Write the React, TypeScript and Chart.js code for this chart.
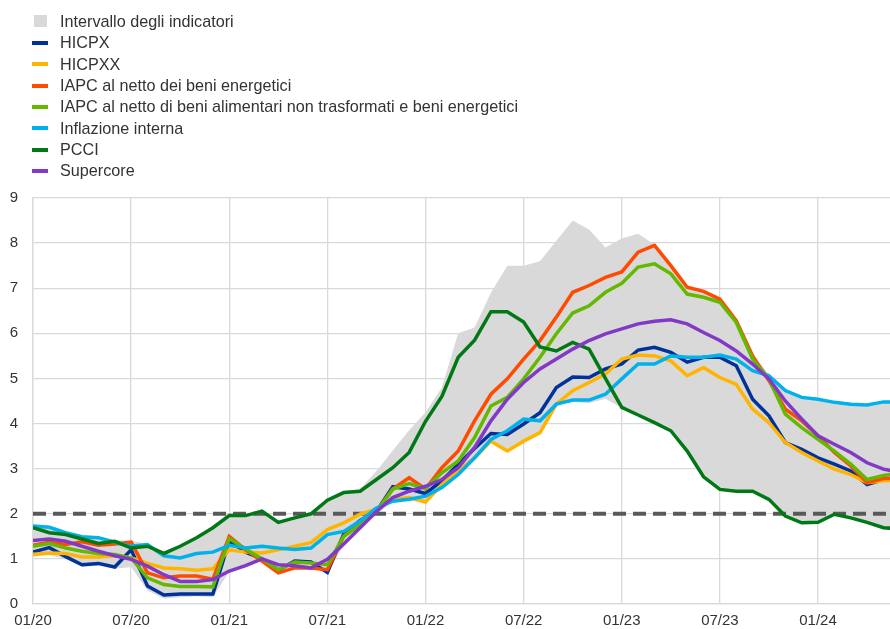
import React, { useEffect, useRef } from 'react';
import { Chart, registerables } from 'chart.js';

Chart.register(...registerables);

// Monthly observations from 01/20 (index 0) to 06/24 (index 53)
const xTickLabels = ['01/20', '07/20', '01/21', '07/21', '01/22', '07/22', '01/23', '07/23', '01/24'];
const monthsPerTick = 6;
const xAxisMax = 52.4;
const yAxisMin = 0;
const yAxisMax = 9;
const targetLevel = 2;

const hicpx = [1.15, 1.25, 1.05, 0.87, 0.9, 0.82, 1.2, 0.4, 0.2, 0.22, 0.22, 0.22,
  1.4, 1.15, 1.0, 0.75, 0.95, 0.93, 0.7, 1.55, 1.85, 2.05, 2.6, 2.55,
  2.45, 2.73, 3.1, 3.45, 3.78, 3.76, 3.99, 4.24, 4.8, 5.03, 5.02, 5.21,
  5.32, 5.63, 5.69, 5.58, 5.36, 5.47, 5.47, 5.28, 4.54, 4.17, 3.58, 3.43,
  3.24, 3.1, 2.95, 2.65, 2.76, 2.8];

const hicpxx = [1.1, 1.13, 1.12, 1.04, 1.04, 1.07, 1.02, 0.9, 0.8, 0.78, 0.75, 0.78,
  1.2, 1.15, 1.13, 1.2, 1.28, 1.36, 1.65, 1.8, 1.99, 2.1, 2.32, 2.36,
  2.26, 2.65, 2.95, 3.24, 3.61, 3.39, 3.61, 3.8, 4.43, 4.73, 4.91, 5.1,
  5.43, 5.52, 5.5, 5.39, 5.06, 5.24, 5.02, 4.87, 4.32, 4.02, 3.58, 3.36,
  3.17, 2.99, 2.87, 2.69, 2.73, 2.75];

const exEnergy = [1.3, 1.37, 1.32, 1.38, 1.3, 1.33, 1.37, 0.69, 0.58, 0.62, 0.62, 0.55,
  1.5, 1.2, 0.95, 0.69, 0.8, 0.8, 0.76, 1.5, 1.8, 2.05, 2.55, 2.8,
  2.55, 3.02, 3.39, 4.06, 4.65, 4.99, 5.43, 5.84, 6.36, 6.91, 7.06, 7.24,
  7.36, 7.8, 7.95, 7.5, 7.02, 6.93, 6.76, 6.28, 5.5, 4.95, 4.32, 4.06,
  3.73, 3.36, 3.06, 2.69, 2.78, 2.8];

const exFoodEnergy = [1.28, 1.34, 1.24, 1.17, 1.12, 1.1, 1.02, 0.58, 0.43, 0.39, 0.39, 0.38,
  1.45, 1.22, 1.0, 0.76, 0.93, 0.91, 0.87, 1.5, 1.75, 2.05, 2.55, 2.67,
  2.56, 2.91, 3.17, 3.69, 4.39, 4.58, 4.99, 5.47, 5.99, 6.45, 6.61, 6.91,
  7.11, 7.47, 7.54, 7.32, 6.87, 6.8, 6.69, 6.24, 5.43, 4.99, 4.21, 3.91,
  3.65, 3.39, 3.1, 2.76, 2.85, 2.9];

const domestic = [1.73, 1.7, 1.58, 1.49, 1.47, 1.37, 1.28, 1.32, 1.07, 1.02, 1.12, 1.15,
  1.3, 1.24, 1.28, 1.24, 1.21, 1.24, 1.54, 1.61, 1.84, 2.13, 2.28, 2.32,
  2.39, 2.58, 2.87, 3.24, 3.65, 3.84, 4.1, 4.06, 4.43, 4.52, 4.52, 4.65,
  4.99, 5.32, 5.32, 5.5, 5.47, 5.47, 5.52, 5.43, 5.17, 5.06, 4.73, 4.58,
  4.54, 4.47, 4.43, 4.41, 4.48, 4.47];

const pcci = [1.69, 1.58, 1.54, 1.44, 1.34, 1.39, 1.24, 1.28, 1.12, 1.28, 1.47, 1.69,
  1.96, 1.96, 2.06, 1.81, 1.91, 2.0, 2.3, 2.47, 2.5, 2.76, 3.02, 3.36,
  4.05, 4.6, 5.47, 5.85, 6.48, 6.48, 6.25, 5.7, 5.61, 5.8, 5.65, 5.0,
  4.36, 4.19, 4.02, 3.84, 3.39, 2.82, 2.54, 2.5, 2.5, 2.32, 1.95, 1.8,
  1.81, 1.99, 1.91, 1.81, 1.69, 1.67];

const supercore = [1.41, 1.44, 1.39, 1.28, 1.17, 1.07, 0.99, 0.84, 0.65, 0.5, 0.5, 0.54,
  0.73, 0.85, 1.0, 0.87, 0.85, 0.8, 0.99, 1.33, 1.69, 2.05, 2.36, 2.5,
  2.61, 2.76, 3.02, 3.47, 4.06, 4.54, 4.91, 5.21, 5.43, 5.65, 5.84, 5.99,
  6.1, 6.21, 6.27, 6.3, 6.21, 6.02, 5.84, 5.61, 5.32, 4.99, 4.5, 4.1,
  3.73, 3.54, 3.36, 3.13, 2.99, 2.92];

const rangeHigh = [1.75, 1.72, 1.6, 1.5, 1.48, 1.42, 1.4, 1.33, 1.13, 1.29, 1.48, 1.7,
  1.97, 1.97, 2.07, 1.85, 1.92, 2.01, 2.31, 2.48, 2.55, 2.95, 3.4, 3.85,
  4.25, 4.8, 6.0, 6.13, 6.9, 7.5, 7.5, 7.6, 8.05, 8.5, 8.3, 7.9,
  8.1, 8.21, 7.97, 7.5, 7.03, 6.94, 6.77, 6.29, 5.51, 5.1, 4.74, 4.59,
  4.55, 4.48, 4.44, 4.42, 4.49, 4.48];

const rangeLow = [1.05, 1.08, 1.0, 0.82, 0.85, 0.78, 0.82, 0.3, 0.12, 0.15, 0.17, 0.15,
  0.72, 0.84, 0.95, 0.68, 0.79, 0.79, 0.69, 1.3, 1.65, 1.98, 2.27, 2.3,
  2.25, 2.57, 2.86, 3.23, 3.6, 3.38, 3.6, 3.79, 4.42, 4.48, 4.45, 4.55,
  4.35, 4.18, 4.01, 3.83, 3.38, 2.81, 2.53, 2.49, 2.49, 2.31, 1.94, 1.79,
  1.8, 1.98, 1.9, 1.8, 1.68, 1.66];

const seriesNames = [
  'HICPX',
  'HICPXX',
  'IAPC al netto dei beni energetici',
  'IAPC al netto di beni alimentari non trasformati e beni energetici',
  'Inflazione interna',
  'PCCI',
  'Supercore',
];
const seriesColors = ['#003299', '#FFB400', '#FF4B00', '#65B800', '#00B1EA', '#007816', '#8139C6'];
const seriesValues = [hicpx, hicpxx, exEnergy, exFoodEnergy, domestic, pcci, supercore];
const rangeLabel = 'Intervallo degli indicatori';
const rangeColor = '#D9D9D9';

const FONT = 'Arial, "Liberation Sans", Helvetica, sans-serif';
const GRID = '#D9D9D9';
const TEXT = '#333333';

const toPoints = (arr: number[]) => arr.map((v, i) => ({ x: i, y: v }));

export default function App() {
  const ref = useRef<HTMLCanvasElement | null>(null);

  useEffect(() => {
    if (!ref.current) return;
    const lineSets = seriesValues.map((vals, k) => ({
      label: seriesNames[k],
      data: toPoints(vals),
      borderColor: seriesColors[k],
      backgroundColor: seriesColors[k],
      borderWidth: 3.5,
      pointRadius: 0,
      fill: false,
      tension: 0,
      order: seriesValues.length - k,
    }));
    const chart = new Chart(ref.current, {
      type: 'line',
      data: {
        datasets: [
          {
            label: 'low',
            data: toPoints(rangeLow),
            borderWidth: 0,
            borderColor: 'rgba(0,0,0,0)',
            pointRadius: 0,
            fill: false,
            order: 20,
          },
          {
            label: rangeLabel,
            data: toPoints(rangeHigh),
            borderWidth: 0,
            borderColor: 'rgba(0,0,0,0)',
            backgroundColor: rangeColor,
            pointRadius: 0,
            fill: '-1',
            order: 19,
          },
          {
            label: 'target',
            data: toPoints(rangeLow.map(() => targetLevel)),
            borderColor: '#595959',
            borderWidth: 4,
            borderDash: [13, 7],
            pointRadius: 0,
            fill: false,
            order: 18,
          },
          ...lineSets,
        ] as any,
      },
      options: {
        animation: false,
        responsive: false,
        maintainAspectRatio: false,
        layout: { padding: { top: 198, left: 0, right: 0, bottom: 0 } },
        plugins: {
          legend: { display: false },
          tooltip: { enabled: false },
        },
        scales: {
          x: {
            type: 'linear',
            min: 0,
            max: xAxisMax,
            afterBuildTicks: (scale: any) => {
              scale.ticks = xTickLabels.map((_, k) => ({ value: k * monthsPerTick }));
            },
            afterFit: (scale: any) => {
              scale.height = 25;
            },
            ticks: {
              autoSkip: false,
              maxRotation: 0,
              padding: 8,
              color: TEXT,
              font: { family: FONT, size: 15 },
              callback: (v: any) => xTickLabels[Math.round(Number(v) / monthsPerTick)] ?? '',
            },
            grid: { color: GRID, lineWidth: 1.3, drawTicks: false },
            border: { color: GRID, width: 1.3 },
          },
          y: {
            min: yAxisMin,
            max: yAxisMax,
            afterFit: (scale: any) => {
              scale.width = 33;
            },
            ticks: {
              stepSize: 1,
              padding: 15,
              color: TEXT,
              font: { family: FONT, size: 15 },
            },
            grid: { color: GRID, lineWidth: 1.3, drawTicks: false },
            border: { color: GRID, width: 1.3 },
          },
        },
      } as any,
    });
    return () => chart.destroy();
  }, []);

  const rowH = 21.36;
  const rowTop0 = 10.8;
  const legendItems = [
    { label: rangeLabel, color: rangeColor, square: true },
    ...seriesNames.map((n, k) => ({ label: n, color: seriesColors[k], square: false })),
  ];

  return (
    <div style={{ position: 'fixed', left: 0, top: 0, width: 890, height: 629, background: '#fff', overflow: 'hidden' }}>
      <canvas ref={ref} width={890} height={629} style={{ position: 'absolute', left: 0, top: 0, width: 890, height: 629 }} />
      {legendItems.map((it, k) => (
        <div
          key={k}
          style={{
            position: 'absolute',
            left: 0,
            top: rowTop0 + k * rowH,
            height: rowH,
            width: 800,
            fontFamily: FONT,
            fontSize: 16.2,
            lineHeight: `${rowH}px`,
            color: TEXT,
            whiteSpace: 'nowrap',
          }}
        >
          {it.square ? (
            <span style={{ position: 'absolute', left: 34, top: rowH / 2 - 6, width: 13, height: 12, background: it.color }} />
          ) : (
            <span style={{ position: 'absolute', left: 32, top: rowH / 2 - 2, width: 16, height: 4, background: it.color }} />
          )}
          <span style={{ position: 'absolute', left: 60, top: 0 }}>{it.label}</span>
        </div>
      ))}
    </div>
  );
}
